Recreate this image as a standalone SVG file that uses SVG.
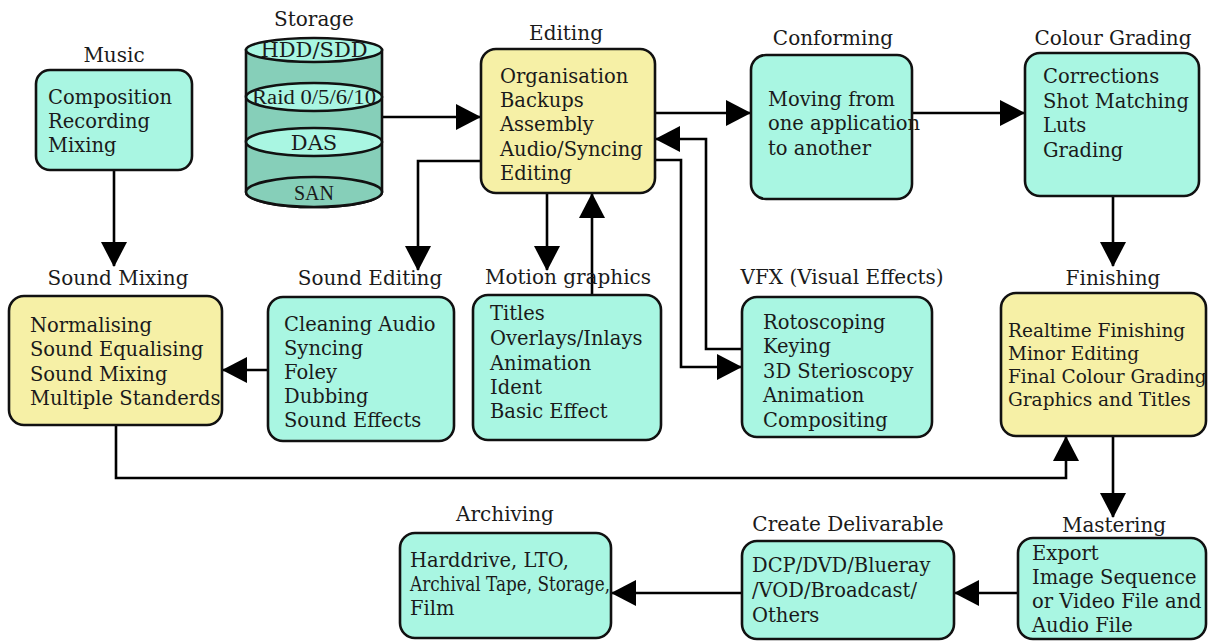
<svg xmlns="http://www.w3.org/2000/svg" width="1208" height="641" viewBox="0 0 1208 641">
<style>
.box{stroke:#111;stroke-width:2.6;}
.teal{fill:#a9f6e2;}
.yel{fill:#f6f0a6;}
.t{font-family:"DejaVu Serif","Liberation Serif",serif;font-size:19.5px;fill:#1a1a1a;}
.ttl{font-family:"DejaVu Serif","Liberation Serif",serif;font-size:20px;fill:#1a1a1a;text-anchor:middle;}
.sm{font-size:18.5px;}
.c{fill:none;stroke:#000;stroke-width:2.6;marker-end:url(#ah);}
.cyl{stroke:#111;stroke-width:2.6;}
</style>
<defs>
<marker id="ah" viewBox="0 0 25 26" refX="24" refY="13" markerWidth="25" markerHeight="26" markerUnits="userSpaceOnUse" orient="auto">
<path d="M0,0 L25,13 L0,26 z" fill="#000"/>
</marker>
</defs>
<rect width="1208" height="641" fill="#fff"/>

<g id="connectors">
<path class="c" d="M114,170 V266"/>
<path class="c" d="M383,117 H480"/>
<path class="c" d="M655,113 H750"/>
<path class="c" d="M742,349 H706 V139 H656"/>
<path class="c" d="M655,160 H681 V367 H741"/>
<path class="c" d="M481,161 H418 V270"/>
<path class="c" d="M547,193 V270"/>
<path class="c" d="M592,295 V194"/>
<path class="c" d="M912,113 H1024"/>
<path class="c" d="M1113,196 V266"/>
<path class="c" d="M268,370 H223"/>
<path class="c" d="M116,425 V478 H1066 V437"/>
<path class="c" d="M1113,436 V517"/>
<path class="c" d="M1018,593 H955"/>
<path class="c" d="M742,593 H612"/>
</g>

<g id="music">
<text class="ttl" x="114" y="62">Music</text>
<rect class="box teal" x="36" y="70" width="156" height="100" rx="14"/>
<text class="t" x="48" y="104">Composition</text>
<text class="t" x="48" y="128">Recording</text>
<text class="t" x="48" y="152">Mixing</text>
</g>

<g id="storage">
<text class="ttl" x="314" y="26">Storage</text>
<path class="cyl" d="M246,50 V192 A68,15 0 0 0 382,192 V50 Z" fill="#86cfb9"/>
<ellipse class="cyl" cx="314" cy="50" rx="68" ry="12" fill="#a9f6e2"/>
<text class="ttl" x="314" y="57" style="font-size:21px">HDD/SDD</text>
<ellipse class="cyl" cx="314" cy="97" rx="68" ry="14" fill="#a9f6e2"/>
<text class="ttl" x="314" y="104" style="font-family:'Liberation Serif',serif;font-size:20px" textLength="124" lengthAdjust="spacingAndGlyphs">Raid 0/5/6/10</text>
<ellipse class="cyl" cx="314" cy="142" rx="68" ry="14" fill="#a9f6e2"/>
<text class="ttl" x="314" y="150" style="font-size:21px">DAS</text>
<ellipse class="cyl" cx="314" cy="192" rx="68" ry="15" fill="#86cfb9"/>
<text class="ttl" x="314" y="200" style="font-family:'Liberation Serif',serif;font-size:20px">SAN</text>
</g>

<g id="editing">
<text class="ttl" x="566" y="40">Editing</text>
<rect class="box yel" x="481" y="49" width="174" height="144" rx="15"/>
<text class="t" x="500" y="83">Organisation</text>
<text class="t" x="500" y="107">Backups</text>
<text class="t" x="500" y="131">Assembly</text>
<text class="t" x="500" y="156">Audio/Syncing</text>
<text class="t" x="500" y="180">Editing</text>
</g>

<g id="conforming">
<text class="ttl" x="833" y="45">Conforming</text>
<rect class="box teal" x="751" y="55" width="161" height="144" rx="15"/>
<text class="t" x="768" y="106">Moving from</text>
<text class="t" x="768" y="130">one application</text>
<text class="t" x="768" y="155">to another</text>
</g>

<g id="colour-grading">
<text class="ttl" x="1113" y="45">Colour Grading</text>
<rect class="box teal" x="1025" y="53" width="174" height="143" rx="15"/>
<text class="t" x="1043" y="83">Corrections</text>
<text class="t" x="1043" y="108">Shot Matching</text>
<text class="t" x="1043" y="132">Luts</text>
<text class="t" x="1043" y="157">Grading</text>
</g>

<g id="sound-mixing">
<text class="ttl" x="118" y="285">Sound Mixing</text>
<rect class="box yel" x="9" y="296" width="213" height="129" rx="15"/>
<text class="t" x="30" y="332">Normalising</text>
<text class="t" x="30" y="356">Sound Equalising</text>
<text class="t" x="30" y="381">Sound Mixing</text>
<text class="t" x="30" y="405">Multiple Standerds</text>
</g>

<g id="sound-editing">
<text class="ttl" x="370" y="285">Sound Editing</text>
<rect class="box teal" x="268" y="297" width="186" height="144" rx="15"/>
<text class="t" x="284" y="331">Cleaning Audio</text>
<text class="t" x="284" y="355">Syncing</text>
<text class="t" x="284" y="379">Foley</text>
<text class="t" x="284" y="403">Dubbing</text>
<text class="t" x="284" y="427">Sound Effects</text>
</g>

<g id="motion-graphics">
<text class="ttl" x="568" y="284">Motion graphics</text>
<rect class="box teal" x="473" y="295" width="188" height="145" rx="15"/>
<text class="t" x="490" y="320">Titles</text>
<text class="t" x="490" y="345">Overlays/Inlays</text>
<text class="t" x="490" y="370">Animation</text>
<text class="t" x="490" y="394">Ident</text>
<text class="t" x="490" y="418">Basic Effect</text>
</g>

<g id="vfx">
<text class="ttl" x="842" y="284">VFX (Visual Effects)</text>
<rect class="box teal" x="742" y="297" width="190" height="140" rx="15"/>
<text class="t" x="763" y="329">Rotoscoping</text>
<text class="t" x="763" y="353">Keying</text>
<text class="t" x="763" y="378">3D Sterioscopy</text>
<text class="t" x="763" y="402">Animation</text>
<text class="t" x="763" y="427">Compositing</text>
</g>

<g id="finishing">
<text class="ttl" x="1113" y="285">Finishing</text>
<rect class="box yel" x="1001" y="293" width="205" height="143" rx="15"/>
<text class="t sm" x="1008" y="337">Realtime Finishing</text>
<text class="t sm" x="1008" y="360">Minor Editing</text>
<text class="t sm" x="1008" y="383">Final Colour Grading</text>
<text class="t sm" x="1008" y="406">Graphics and Titles</text>
</g>

<g id="mastering">
<text class="ttl" x="1114" y="532">Mastering</text>
<rect class="box teal" x="1018" y="538" width="188" height="101" rx="15"/>
<text class="t" x="1032" y="560">Export</text>
<text class="t" x="1032" y="584">Image Sequence</text>
<text class="t" x="1032" y="608">or Video File and</text>
<text class="t" x="1032" y="632">Audio File</text>
</g>

<g id="create-delivarable">
<text class="ttl" x="848" y="531">Create Delivarable</text>
<rect class="box teal" x="742" y="541" width="212" height="98" rx="15"/>
<text class="t" x="752" y="572">DCP/DVD/Blueray</text>
<text class="t" x="752" y="597">/VOD/Broadcast/</text>
<text class="t" x="752" y="622">Others</text>
</g>

<g id="archiving">
<text class="ttl" x="505" y="521">Archiving</text>
<rect class="box teal" x="400" y="533" width="211" height="105" rx="15"/>
<text class="t" x="410" y="567">Harddrive, LTO,</text>
<text class="t" x="410" y="591" textLength="200" lengthAdjust="spacingAndGlyphs">Archival Tape, Storage,</text>
<text class="t" x="410" y="615">Film</text>
</g>
</svg>
